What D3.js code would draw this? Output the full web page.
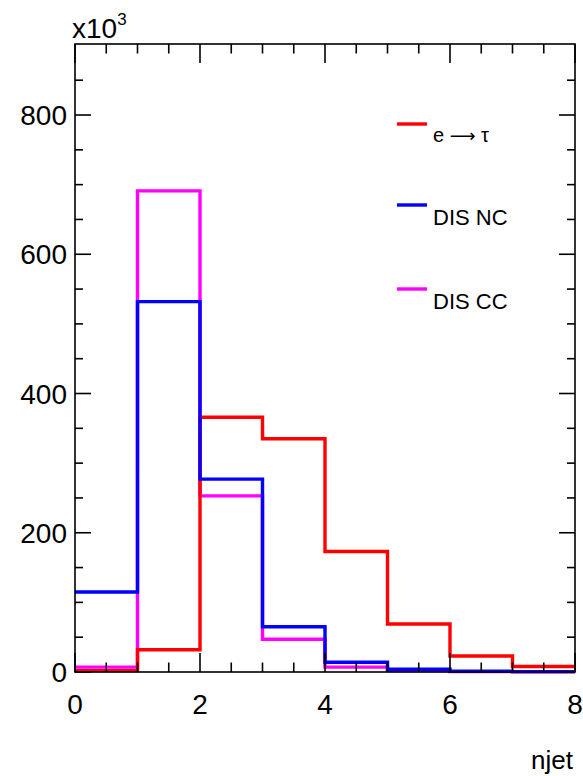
<!DOCTYPE html>
<html>
<head>
<meta charset="utf-8">
<script src="https://cdn.jsdelivr.net/npm/d3@7"></script>
<style>
  body { margin: 0; background: #fff; }
  svg { display: block; }
  text { font-family: "Liberation Sans", Arial, Helvetica, sans-serif; fill: #000; }
</style>
</head>
<body>
<div id="container"></div>
<script>
// bin edges of njet and contents (in units of 10^3)
const binEdges = [0, 1, 2, 3, 4, 5, 6, 7, 8];
const eTau  = [2, 32, 366, 335, 173, 69, 23, 8];
const disNC = [115, 532, 277, 65, 14, 4, 1, 0.5];
const disCC = [7, 691, 253, 47, 7, 2, 0.5, 0.2];
const yMajorTicks = [0, 200, 400, 600, 800];
const xMajorTicks = [0, 2, 4, 6, 8];

const series = [
  { name: 'DIS CC', values: disCC, color: '#ff00ff' },
  { name: 'e \u2192 \u03c4', values: eTau, color: '#ff0000' },
  { name: 'DIS NC', values: disNC, color: '#0000ff' }
];
const legendOrder = ['e \u2192 \u03c4', 'DIS NC', 'DIS CC'];

const width = 583, height = 776;
const frame = { left: 75, right: 575, top: 44, bottom: 672 };

const svg = d3.select('#container')
  .append('svg')
  .attr('width', width)
  .attr('height', height);

const x = d3.scaleLinear().domain([0, 8]).range([frame.left, frame.right]);
const y = d3.scaleLinear().domain([0, 902]).range([frame.bottom, frame.top]);

// histogram outlines (ROOT "HIST" style, no drop to zero at the edges)
const histLine = d3.line()
  .x(d => x(d[0]))
  .y(d => y(d[1]));

series.forEach(s => {
  const pts = [];
  s.values.forEach((v, i) => {
    pts.push([binEdges[i], v]);
    pts.push([binEdges[i + 1], v]);
  });
  svg.append('path')
    .attr('d', histLine(pts))
    .attr('fill', 'none')
    .attr('stroke', s.color)
    .attr('stroke-width', 3.4)
    .attr('stroke-linejoin', 'miter');
});

// axes: bottom / left with labels, top / right mirrored ticks
const majorX = 19, minorX = 9.5;
const majorY = 16, minorY = 8;

const xMinor = d3.range(0, 8.01, 0.5);
const yMinor = d3.range(0, 900, 50);

const axisG = svg.append('g').attr('stroke', '#000').attr('stroke-width', 1.6);

axisG.append('rect')
  .attr('x', frame.left).attr('y', frame.top)
  .attr('width', frame.right - frame.left)
  .attr('height', frame.bottom - frame.top)
  .attr('fill', 'none');

xMinor.forEach(t => {
  const len = xMajorTicks.includes(t) ? majorX : minorX;
  axisG.append('line')
    .attr('x1', x(t)).attr('x2', x(t))
    .attr('y1', frame.bottom).attr('y2', frame.bottom - len);
  axisG.append('line')
    .attr('x1', x(t)).attr('x2', x(t))
    .attr('y1', frame.top).attr('y2', frame.top + len);
});

yMinor.forEach(t => {
  const len = yMajorTicks.includes(t) ? majorY : minorY;
  axisG.append('line')
    .attr('y1', y(t)).attr('y2', y(t))
    .attr('x1', frame.left).attr('x2', frame.left + len);
  axisG.append('line')
    .attr('y1', y(t)).attr('y2', y(t))
    .attr('x1', frame.right).attr('x2', frame.right - len);
});

// tick labels
svg.append('g').selectAll('text')
  .data(xMajorTicks)
  .join('text')
  .attr('x', d => x(d))
  .attr('y', 714)
  .attr('text-anchor', 'middle')
  .attr('font-size', 28)
  .text(d => d);

svg.append('g').selectAll('text')
  .data(yMajorTicks)
  .join('text')
  .attr('x', 67)
  .attr('y', d => y(d) + 10)
  .attr('text-anchor', 'end')
  .attr('font-size', 28)
  .text(d => d);

// exponent label
const expo = svg.append('text')
  .attr('x', 72)
  .attr('y', 38)
  .attr('font-size', 28);
expo.append('tspan').text('x10');
expo.append('tspan').attr('dy', -13).attr('font-size', 17).text('3');

// x axis title
svg.append('text')
  .attr('x', 573)
  .attr('y', 769)
  .attr('text-anchor', 'end')
  .attr('font-size', 26)
  .text('njet');

// legend
const legendY = { 'e \u2192 \u03c4': 124, 'DIS NC': 205, 'DIS CC': 289 };
legendOrder.forEach(name => {
  const s = series.find(d => d.name === name);
  const ly = legendY[name];
  svg.append('line')
    .attr('x1', 397).attr('x2', 427)
    .attr('y1', ly).attr('y2', ly)
    .attr('stroke', s.color)
    .attr('stroke-width', 3.4);
  const t = svg.append('text')
    .attr('x', 433)
    .attr('y', ly + 20)
    .attr('font-size', 22);
  if (name === 'e \u2192 \u03c4') {
    t.attr('y', ly + 18);
    t.append('tspan').attr('font-size', 20).text('e ');
    t.append('tspan').attr('font-family', 'DejaVu Sans').attr('font-size', 18).text('\u27f6');
    t.append('tspan').attr('font-size', 20).text(' \u03c4');
  } else {
    t.text(name);
  }
});
</script>
</body>
</html>
